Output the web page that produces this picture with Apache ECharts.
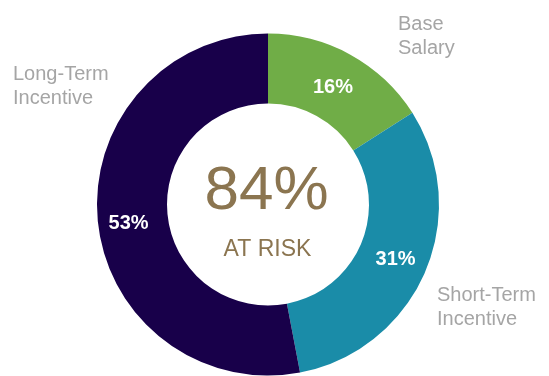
<!DOCTYPE html>
<html>
<head>
<meta charset="utf-8">
<script src="https://cdn.jsdelivr.net/npm/echarts@6/dist/echarts.min.js"></script>
<style>
  html, body { margin: 0; padding: 0; background: #fff; }
  #chart { width: 549px; height: 376px; }
</style>
</head>
<body>
<div id="chart"></div>
<script>
var categories = ['Base Salary', 'Short-Term Incentive', 'Long-Term Incentive'];
var values = [16, 31, 53];
var totalAtRisk = '84%';
var centerCaption = 'AT RISK';

var colors = ['#70ad47', '#1a8ca8', '#18004a'];
// where the outside name labels sit (left/top of text block)
var namePos = [[398, 12], [437, 283], [13, 62]];
// small nudges for the % labels inside the ring
var pctOffset = [[-2, 5], [0, 0], [-1, 6]];

var chart = echarts.init(document.getElementById('chart'));

var ringData = categories.map(function (name, i) {
    return {
        name: name,
        value: values[i],
        itemStyle: { color: colors[i] },
        label: { offset: pctOffset[i] }
    };
});

var nameData = categories.map(function (name, i) {
    return { name: name, value: values[i] };
});

option = {
    animation: false,
    series: [
        {
            type: 'pie',
            center: [268, 204.5],
            radius: [101, 171],
            startAngle: 90,
            silent: true,
            label: {
                show: true,
                position: 'inside',
                formatter: function (p) { return p.value + '%'; },
                color: '#fff',
                fontFamily: 'Liberation Sans, Arial, sans-serif',
                fontWeight: 'bold',
                fontSize: 20
            },
            labelLine: { show: false },
            data: ringData
        },
        {
            type: 'pie',
            center: [268, 204.5],
            radius: [101, 171],
            startAngle: 90,
            silent: true,
            itemStyle: { color: 'transparent' },
            label: {
                show: true,
                position: 'outside',
                formatter: function (p) { return p.name.replace(' ', '\n'); },
                color: '#a5a5a5',
                fontFamily: 'Liberation Sans, Arial, sans-serif',
                fontSize: 20,
                lineHeight: 24,
                align: 'left',
                overflow: 'none',
                width: 150
            },
            labelLine: { show: false },
            labelLayout: function (p) {
                var pos = namePos[p.dataIndex];
                return { x: pos[0], y: pos[1], align: 'left', verticalAlign: 'top' };
            },
            data: nameData
        }
    ],
    graphic: [
        {
            type: 'text',
            style: {
                x: 0, y: 0,
                text: totalAtRisk,
                fill: '#8b7550',
                font: '62px "Liberation Sans", Arial, sans-serif',
                textAlign: 'center',
                textVerticalAlign: 'middle'
            },
            x: 266.5,
            y: 192
        },
        {
            type: 'text',
            style: {
                x: 0, y: 0,
                text: centerCaption,
                fill: '#8b7550',
                font: '23px "Liberation Sans", Arial, sans-serif',
                textAlign: 'center',
                textVerticalAlign: 'middle'
            },
            x: 267.5,
            y: 249.5
        }
    ]
};

chart.setOption(option);
</script>
</body>
</html>
